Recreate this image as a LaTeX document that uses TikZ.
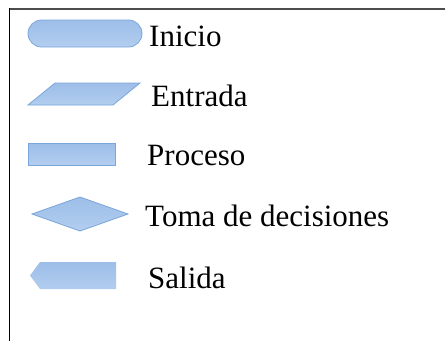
\documentclass[tikz,border=0pt]{standalone}
\usepackage{fontspec}
\setmainfont{Liberation Serif}
\begin{document}
\begin{tikzpicture}[x=1pt,y=-1pt,
  shp/.style={draw=shapeline,line width=0.8pt,top color=shapetop,bottom color=shapebot},
  lbl/.style={anchor=base west,inner sep=0pt,font=\fontsize{31}{35}\selectfont}]
\definecolor{shapeline}{HTML}{7BA6DB}
\definecolor{shapetop}{HTML}{9DBEE8}
\definecolor{shapebot}{HTML}{B2CDEF}
\useasboundingbox (0,0) rectangle (445,341);
\fill[white] (0,0) rectangle (445,341);
% frame
\draw[line width=2.4pt,draw=black!70] (9,8.7) -- (445,8.7);
\draw[line width=1.6pt,black] (9.5,8) -- (9.5,341);
% shapes
\draw[shp,rounded corners=13.5pt] (28,20) rectangle (142,47);
\draw[shp] (28,105) -- (55,83) -- (140,83) -- (113,105) -- cycle;
\draw[shp] (28,143) rectangle (115,165);
\draw[shp] (32,214) -- (80,197) -- (128,214) -- (80,231) -- cycle;
\draw[shp,draw=none] (30,275.5) -- (40,262) -- (116,262) -- (116,289) -- (40,289) -- cycle;
% labels
\node[lbl] (inicio) at (149,46.7) {Inicio};
\node[lbl] (entrada) at (151,106.7) {Entrada};
\node[lbl] (proceso) at (147,165.7) {Proceso};
\node[lbl] (toma) at (145,226.7) {Toma de decisiones};
\node[lbl] (salida) at (148,288) {Salida};
\end{tikzpicture}
\end{document}
